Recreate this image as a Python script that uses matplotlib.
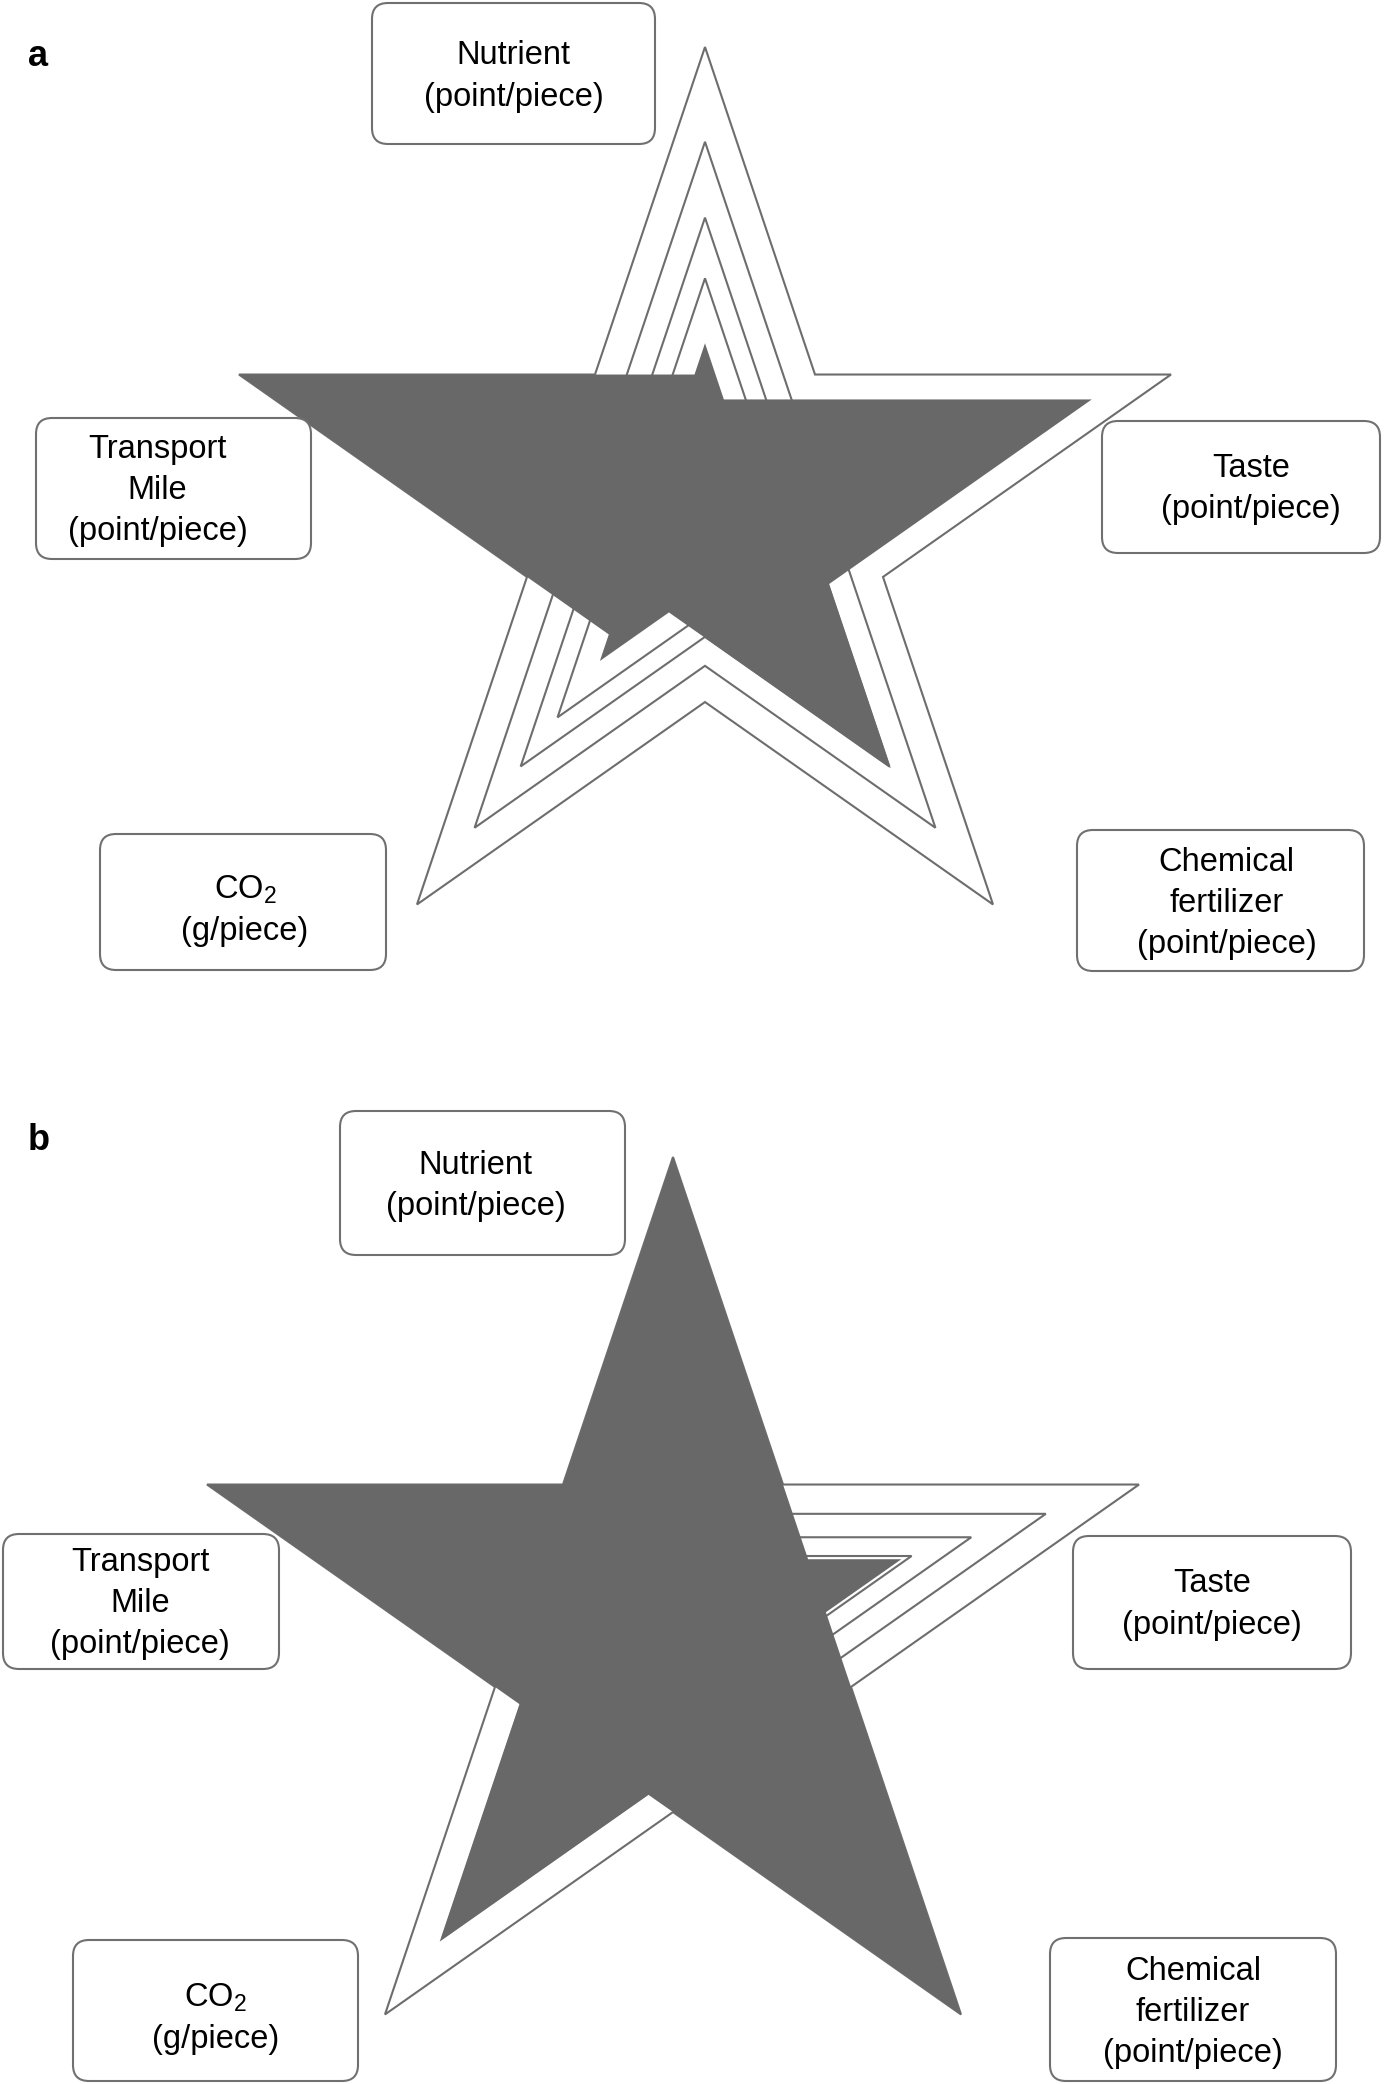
import numpy as np
import matplotlib
matplotlib.use("Agg")
import matplotlib.pyplot as plt
from matplotlib.patches import FancyBboxPatch

plt.rcParams['font.family'] = ['Liberation Sans', 'DejaVu Sans']
plt.rcParams['mathtext.fontset'] = 'custom'
plt.rcParams['mathtext.rm'] = 'Liberation Sans'
plt.rcParams['mathtext.it'] = 'Liberation Sans:italic'

# axis order round the star: top, right, lower right, lower left, left
axis_names = ["Nutrient\n(point/piece)", "Taste\n(point/piece)",
              "Chemical\nfertilizer\n(point/piece)", "CO$_2$\n(g/piece)",
              "Transport\nMile\n(point/piece)"]

# reference stars, each one 80% of the one before
ref_levels = [1.0, 0.8, 0.64, 0.512]

# scores of the highlighted product (same axis order)
values_a = [0.375, 0.83, 0.645, 0.365, 1.0]
values_b = [1.0, 0.49, 1.0, 0.81, 1.0]

W, H = 1384, 2084
RX, RY = 490, 474          # pixels for one unit of score
STAR_GREY = "#686868"
LINE_GREY = "#6d6d6d"

ANGLES = np.deg2rad(90 - 72 * np.arange(5))
INNER = np.cos(np.deg2rad(72)) / np.cos(np.deg2rad(36))   # inner radius of a regular star


def star_xy(vals):
    """star with tips at vals; every arm keeps the edge directions of a regular star"""
    vals = np.asarray(vals, float)
    unit = np.c_[np.cos(ANGLES), np.sin(ANGLES)]
    tips = vals[:, None] * unit
    pts = []
    for k in range(5):
        j = (k + 1) % 5
        mid = ANGLES[k] - np.deg2rad(36)
        inner = INNER * np.array([np.cos(mid), np.sin(mid)])
        u = inner - unit[k]
        w = inner - unit[j]
        s, t = np.linalg.solve(np.c_[u, -w], tips[j] - tips[k])
        pts.append(tips[k])
        pts.append(tips[k] + s * u)
    pts = np.array(pts)
    return pts[:, 0], pts[:, 1]


fig = plt.figure(figsize=(W / 100, H / 100), dpi=100)

# letter, values, star centre (px), vertical span of the panel (px)
panels = [("a", values_a, (705, 521), (0, 1042)),
          ("b", values_b, (673, 1631), (1042, 2084))]

for letter, vals, (cx, cy), (top, bot) in panels:
    ax = fig.add_axes([0, 1 - bot / H, 1, (bot - top) / H])
    ax.set_xlim(-cx / RX, (W - cx) / RX)
    ax.set_ylim(-(bot - cy) / RY, (cy - top) / RY)
    ax.axis('off')
    for lev in ref_levels:
        x, y = star_xy([lev] * 5)
        ax.fill(x, y, facecolor='none', edgecolor=LINE_GREY, lw=1.5, joinstyle='miter')
    x, y = star_xy(vals)
    ax.fill(x, y, color=STAR_GREY, lw=0)

# label boxes, drawn in pixel space
over = fig.add_axes([0, 0, 1, 1], zorder=5)
over.set_xlim(0, W)
over.set_ylim(H, 0)
over.axis('off')

boxes = {
    "a": [(372, 3, 655, 144), (1102, 421, 1380, 553), (1077, 830, 1364, 971),
          (100, 834, 386, 970), (36, 418, 311, 559)],
    "b": [(340, 1111, 625, 1255), (1073, 1536, 1351, 1669), (1050, 1938, 1336, 2081),
          (73, 1940, 358, 2081), (3, 1534, 279, 1669)],
}
text_dx = {"a": [0, 10, 6, 2, -16], "b": [-7, 0, 0, 0, -1]}
text_dy = [3, 2, 3, 8, 2]

for letter, ybase in [("a", 66), ("b", 1150)]:
    over.text(28, ybase, letter, fontsize=26, fontweight='bold', ha='left', va='baseline')
    for name, (x0, y0, x1, y1), dx, dy in zip(axis_names, boxes[letter], text_dx[letter], text_dy):
        over.add_patch(FancyBboxPatch((x0, y0), x1 - x0, y1 - y0,
                                      boxstyle="round,pad=0,rounding_size=16",
                                      facecolor='white', edgecolor='#707070', lw=1.5))
        over.text((x0 + x1) / 2 + dx, (y0 + y1) / 2 + dy, name, ha='center', va='center',
                  fontsize=23.5, linespacing=1.42, color='black')

fig.savefig("out.png", dpi=100)
